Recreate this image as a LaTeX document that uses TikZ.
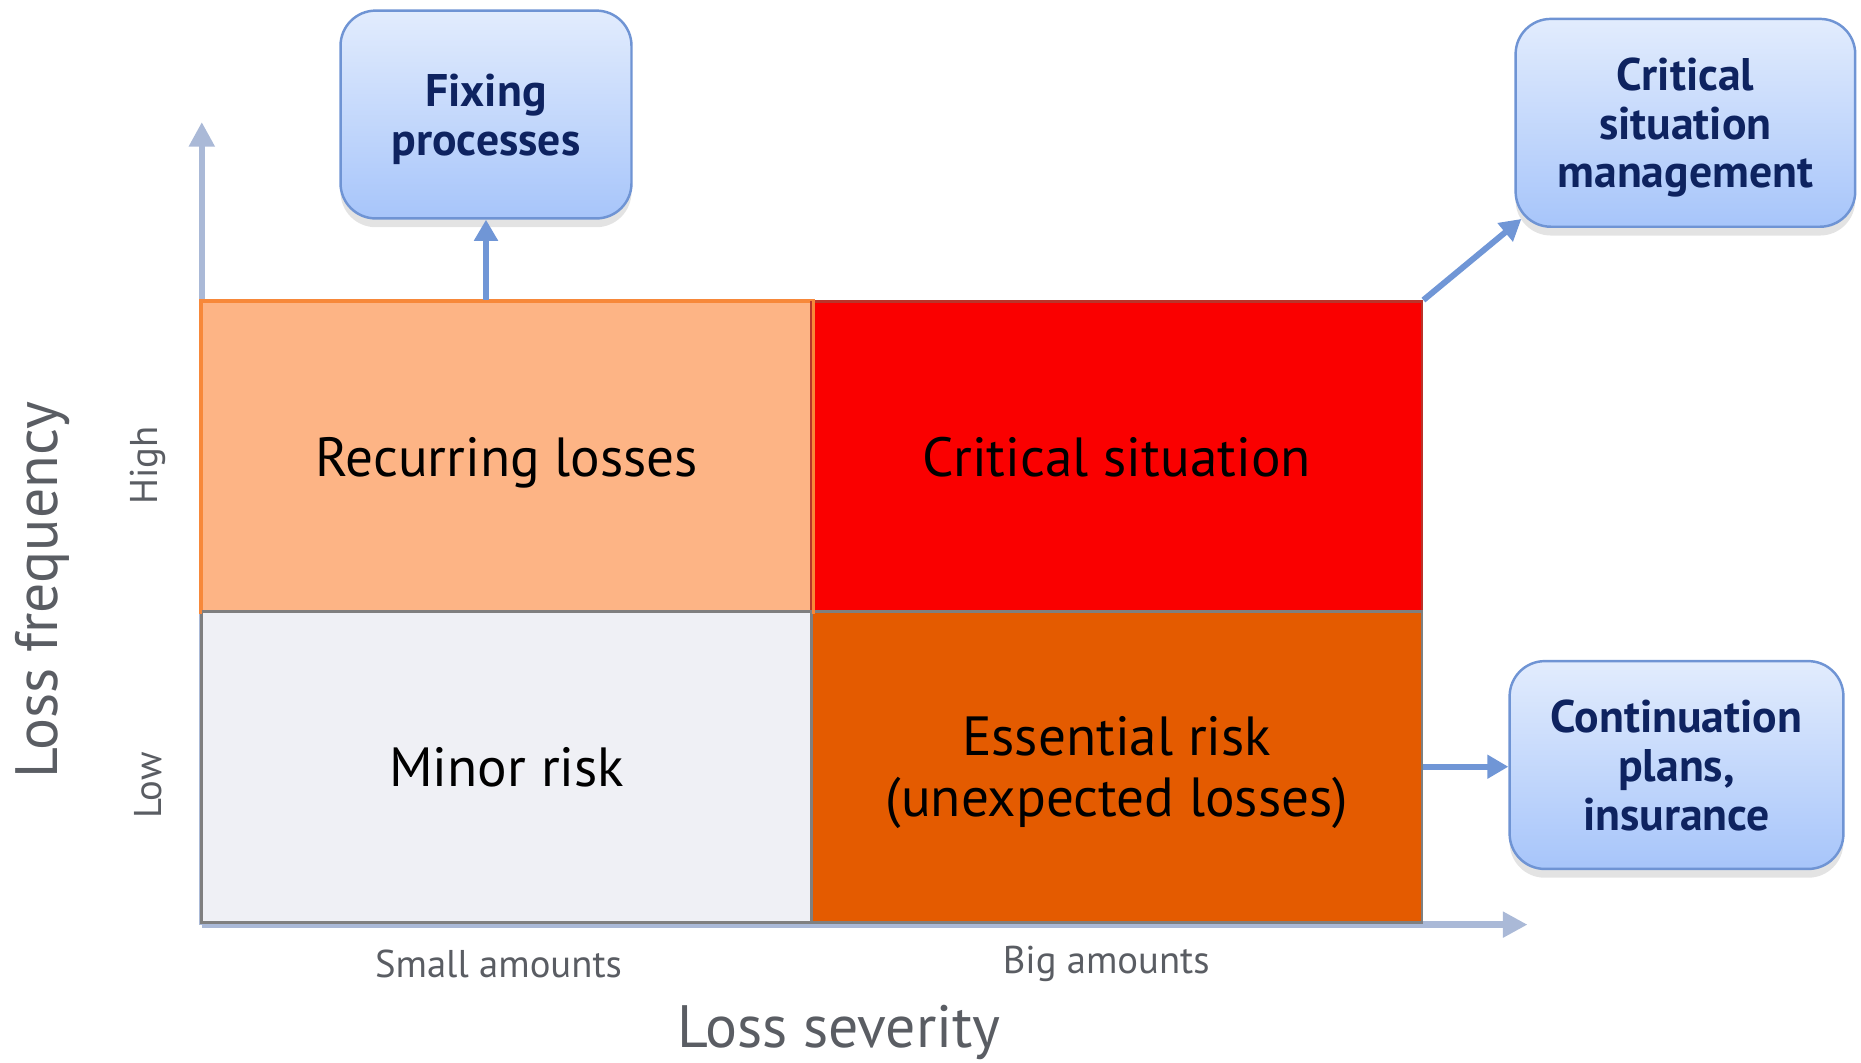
\documentclass[tikz,border=0pt]{standalone}
\usepackage{fontspec}
\setmainfont{PT Sans}
\usetikzlibrary{arrows.meta,shadows,calc}
\definecolor{axiscol}{HTML}{AAB9D7}
\definecolor{linkcol}{HTML}{7096D6}
\definecolor{boxtop}{HTML}{E2ECFD}
\definecolor{boxbot}{HTML}{A7C5FA}
\definecolor{boxline}{HTML}{6F94D4}
\definecolor{boxtext}{HTML}{0E2360}
\definecolor{peach}{HTML}{FDB485}
\definecolor{peachline}{HTML}{F7883A}
\definecolor{hotred}{HTML}{FA0000}
\definecolor{redline}{HTML}{B9342A}
\definecolor{paleg}{HTML}{EFF0F5}
\definecolor{burnt}{HTML}{E45B00}
\definecolor{greyline}{HTML}{7F7F7F}
\definecolor{labelgrey}{HTML}{5A5D63}
\tikzset{
  quad/.style={draw, line width=0.8pt, minimum width=6.1cm, minimum height=3.109cm,
    inner sep=0pt, align=center, text=black, font=\fontsize{15.7}{17.2}\selectfont,
    text height=11pt, text depth=0pt},
  action/.style={draw=boxline, line width=0.7pt, rounded corners=10pt,
    top color=boxtop, bottom color=boxbot, align=center, text=boxtext,
    font=\fontsize{13}{13.85}\selectfont\bfseries, inner sep=0pt,
    text depth=0pt,
    drop shadow={opacity=0.22, shadow xshift=0pt, shadow yshift=-2.5pt}},
  axisarrow/.style={draw=axiscol, line width=1.8pt, -{Triangle[length=7pt,width=7pt]}},
  linkarrow/.style={draw=linkcol, line width=1.7pt, -{Triangle[length=6pt,width=6.5pt]}},
  ticklabel/.style={text=labelgrey, font=\fontsize{11}{12}\selectfont},
  axislabel/.style={text=labelgrey, font=\fontsize{17}{20}\selectfont}
}
\begin{document}
\begin{tikzpicture}[x=0.01cm, y=-0.01cm]
\useasboundingbox (0,0) rectangle (1861,1062);
% axes
\coordinate (origin) at (201.8,924.6);
\coordinate (ytip) at (201.8,122);
\coordinate (xtip) at (1527.5,924.6);
\draw[axisarrow] (origin) -- (ytip);
\draw[axisarrow] (origin) -- (xtip);
% quadrants
\node[quad, fill=peach, draw=peachline] (rec) at (506.8,457) {Recurring losses};
\node[quad, fill=hotred, draw=redline] (crit) at (1116.8,457) {Critical situation};
\node[quad, fill=paleg, draw=greyline] (minor) at (506.8,766.7) {Minor risk};
\node[quad, fill=burnt, draw=greyline, text height=28.2pt] (ess) at (1116.8,766.7) {Essential risk\\(unexpected losses)};
\draw[peachline, line width=0.8pt] (rec.south west) -- (rec.north west) -- (rec.north east) -- (rec.south east);
% action boxes
\node[action, text height=23.15pt, minimum width=2.908cm, minimum height=2.077cm] (fix) at (486,114.5) {Fixing\\processes};
\node[action, text height=37pt, minimum width=3.394cm, minimum height=2.077cm] (csm) at (1685.4,122.8) {Critical\\situation\\management};
\node[action, text height=37pt, minimum width=3.336cm, minimum height=2.077cm] (cont) at (1676.5,765) {Continuation\\plans,\\insurance};
% links
\draw[linkarrow] (fix.south |- rec.north) -- (fix.south);
\draw[linkarrow] (crit.north east) -- ($(csm.south west)+(7,-9)$);
\draw[linkarrow] (ess.east) -- (ess.east -| cont.west);
% labels
\node[ticklabel, rotate=90] (high) at (148.4,465.3) {High};
\node[ticklabel, rotate=90] (low) at (148.4,785.7) {Low};
\node[axislabel, rotate=90] (freq) at (43,590) {Loss frequency};
\node[ticklabel] (small) at (498.5,963.8) {Small amounts};
\node[ticklabel] (big) at (1106.2,963.8) {Big amounts};
\node[axislabel] (sev) at (839.1,1032.6) {Loss severity};
\end{tikzpicture}
\end{document}
